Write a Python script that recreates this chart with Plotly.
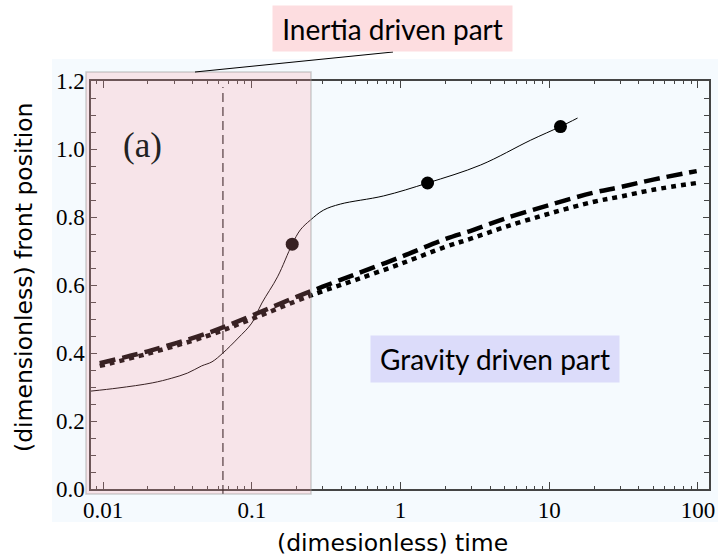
import numpy as np
import plotly.graph_objects as go

# ---- data ----
t_sim = [0.0083, 0.0126, 0.0214, 0.029, 0.037, 0.046, 0.054, 0.064, 0.081, 0.1, 0.117,
         0.149, 0.187, 0.212, 0.248, 0.303, 0.394, 0.77, 1.52, 3.46, 7.5, 11.9, 15.5]
x_sim = [0.288, 0.297, 0.312, 0.326, 0.341, 0.362, 0.374, 0.40, 0.444, 0.488, 0.547,
         0.624, 0.72, 0.762, 0.791, 0.82, 0.838, 0.862, 0.90, 0.953, 1.026, 1.066, 1.091]
t_dots = [0.187, 1.52, 11.9]
x_dots = [0.72, 0.90, 1.066]

t_model = [0.0095, 0.02, 0.05, 0.1, 0.2, 0.3, 0.5, 1, 2, 3, 5, 10, 20, 30, 50, 98]
x_dashed = [0.37, 0.405, 0.458, 0.51, 0.565, 0.595, 0.632, 0.682, 0.735, 0.76, 0.795,
            0.835, 0.872, 0.888, 0.91, 0.935]
x_dotted = [0.362, 0.398, 0.45, 0.50, 0.553, 0.582, 0.615, 0.662, 0.712, 0.737, 0.77,
            0.81, 0.845, 0.86, 0.88, 0.90]

t_transition = 0.064

x_tickvals = [0.01, 0.1, 1, 10, 100]
x_ticktext = ["0.01", "0.1", "1", "10", "100"]
y_tickvals = [0.0, 0.2, 0.4, 0.6, 0.8, 1.0, 1.2]
y_ticktext = ["0.0", "0.2", "0.4", "0.6", "0.8", "1.0", "1.2"]

x_minor = [m * 10.0 ** e for e in range(-3, 3) for m in range(2, 10)]
y_minor = [round(0.05 * i, 2) for i in range(0, 25)]

x_title = "(dimesionless) time"
y_title = "(dimensionless) front position"

SANS = "Lato"
TITLE = "DejaVu Sans"
SERIF = "Liberation Serif"

# plot-area geometry (pixels) for paper-coordinate conversions
L, R, T, B = 91, 709, 81, 489
W, H = R - L, B - T


def px(x):
    return (x - L) / W


def py(y):
    return (B - y) / H


fig = go.Figure()

fig.add_trace(go.Scatter(x=t_model, y=x_dashed, mode="lines", line_shape="spline",
                         line=dict(color="black", width=4.5, dash="16px,7px"), showlegend=False))
fig.add_trace(go.Scatter(x=t_model, y=x_dotted, mode="lines", line_shape="spline",
                         line=dict(color="black", width=4.5, dash="5px,5px"), showlegend=False))
fig.add_trace(go.Scatter(x=t_sim, y=x_sim, mode="lines", line_shape="spline",
                         line=dict(color="black", width=1), showlegend=False))
fig.add_trace(go.Scatter(x=t_dots, y=x_dots, mode="markers",
                         marker=dict(color="black", size=13), showlegend=False))

# light blue background region behind the plot
fig.add_shape(type="rect", xref="paper", yref="paper", x0=px(52), x1=px(718), y0=py(522), y1=py(59),
              fillcolor="#F5FAFE", line_width=0, layer="below")
# vertical transition line
fig.add_shape(type="line", xref="x", yref="paper", x0=t_transition, x1=t_transition, y0=py(494), y1=py(87),
              line=dict(color="#111", width=1.1, dash="9px,5px"), layer="above")
# inertia region overlay
fig.add_shape(type="rect", xref="paper", yref="paper", x0=px(86), x1=px(311), y0=py(494), y1=py(72),
              fillcolor="rgba(254,150,160,0.22)", line=dict(color="rgba(150,150,150,0.45)", width=1.5),
              layer="above")
# leader line
fig.add_shape(type="line", xref="paper", yref="paper", x0=px(195), y0=py(72), x1=px(393), y1=py(52),
              line=dict(color="black", width=1), layer="above")

fig.add_annotation(text="Inertia driven part", xref="paper", yref="paper", x=px(392.5), y=py(28.5),
                   xanchor="center", yanchor="middle", showarrow=False,
                   bgcolor="#FDDDE0", borderpad=0, width=239, height=45,
                   font=dict(family=SANS, size=28, color="black"))
fig.add_annotation(text="Gravity driven part", xref="paper", yref="paper", x=px(495), y=py(359),
                   xanchor="center", yanchor="middle", showarrow=False,
                   bgcolor="#DCDCFA", borderpad=0, width=248, height=46,
                   font=dict(family=SANS, size=28, color="black"))
fig.add_annotation(text="(a)", xref="paper", yref="paper", x=px(142), y=py(145),
                   xanchor="center", yanchor="middle", showarrow=False,
                   font=dict(family=SERIF, size=35, color="#222"))
# axis titles
fig.add_annotation(text=x_title, xref="paper", yref="paper", x=px(392), y=py(543),
                   xanchor="center", yanchor="middle", showarrow=False,
                   font=dict(family=TITLE, size=23.5, color="black"))
fig.add_annotation(text=y_title, xref="paper", yref="paper", x=px(24), y=py(278), textangle=-90,
                   xanchor="center", yanchor="middle", showarrow=False,
                   font=dict(family=TITLE, size=23.5, color="black"))

axis_common = dict(showgrid=False, zeroline=False, showline=True, linecolor="#444", linewidth=1.5,
                   mirror="ticks", ticks="inside", tickcolor="#444", tickwidth=1.2, automargin=False,
                   tickfont=dict(family=SERIF, size=23, color="black"))

fig.update_xaxes(type="log", range=[np.log10(0.0083), np.log10(118.6)],
                 tickvals=x_tickvals, ticktext=x_ticktext, ticklen=7,
                 minor=dict(tickvals=x_minor, ticks="inside", ticklen=3, tickcolor="#444", tickwidth=1),
                 **axis_common)
fig.update_yaxes(range=[0, 1.2], tickvals=y_tickvals, ticktext=y_ticktext, ticklen=6,
                 minor=dict(tickvals=y_minor, ticks="inside", ticklen=5, tickcolor="#444", tickwidth=1),
                 **axis_common)

fig.update_layout(width=718, height=556, margin=dict(l=L, r=718 - R, t=T, b=556 - B),
                  paper_bgcolor="white", plot_bgcolor="rgba(0,0,0,0)")

fig.write_html("out.html")
